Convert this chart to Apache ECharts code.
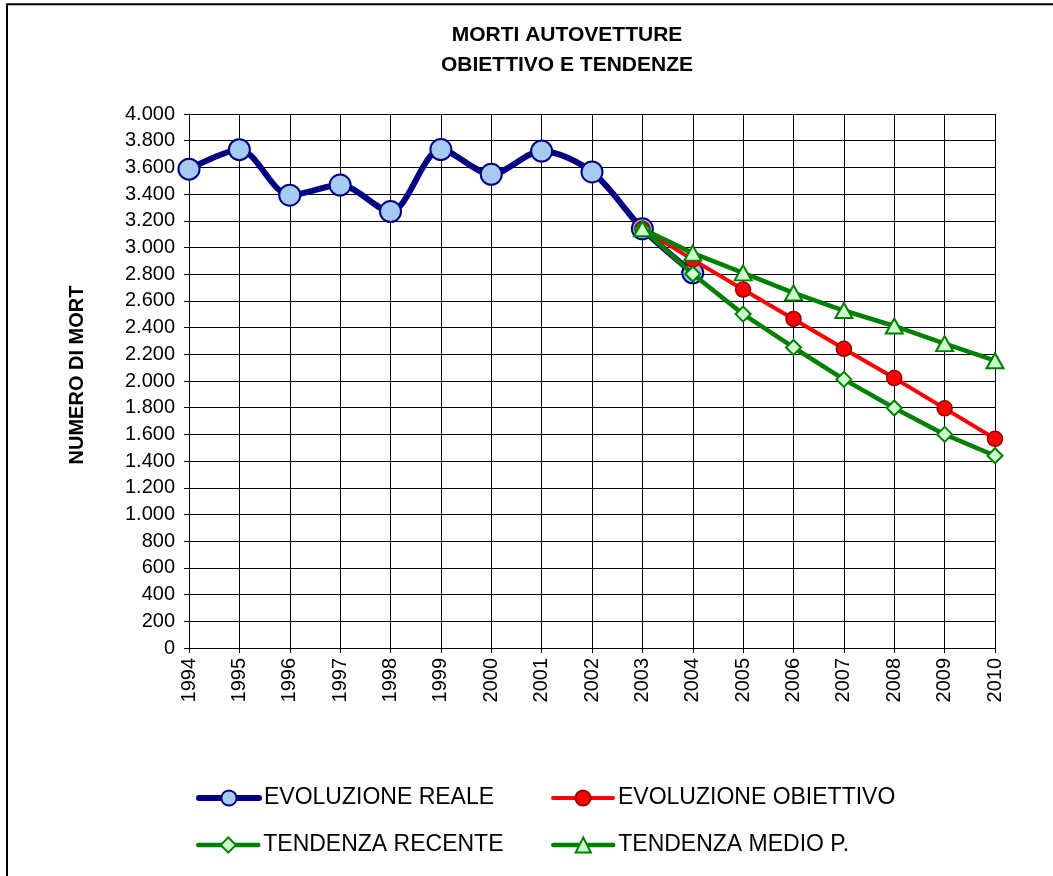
<!DOCTYPE html>
<html>
<head>
<meta charset="utf-8">
<script src="https://cdn.jsdelivr.net/npm/echarts@6/dist/echarts.min.js"></script>
<style>
html,body{margin:0;padding:0;background:#fff;}
#chart{width:1053px;height:876px;}
</style>
</head>
<body>
<div id="chart"></div>
<script>
const years = ['1994','1995','1996','1997','1998','1999','2000','2001','2002','2003','2004','2005','2006','2007','2008','2009','2010'];
const evoluzioneReale = [3587, 3733, 3392, 3468, 3269, 3734, 3548, 3722, 3566, 3140, 2810, null, null, null, null, null, null];
const evoluzioneObiettivo = [null, null, null, null, null, null, null, null, null, 3140, 2909, 2685, 2465, 2241, 2022, 1795, 1567];
const tendenzaRecente = [null, null, null, null, null, null, null, null, null, 3140, 2801, 2501, 2251, 2012, 1798, 1600, 1440];
const tendenzaMedio = [null, null, null, null, null, null, null, null, null, 3140, 2958, 2810, 2660, 2528, 2412, 2280, 2152];
const seriesNames = ['EVOLUZIONE REALE', 'EVOLUZIONE OBIETTIVO', 'TENDENZA RECENTE', 'TENDENZA MEDIO P.'];
const titleLines = ['MORTI AUTOVETTURE', 'OBIETTIVO E TENDENZE'];
const yAxisTitle = 'NUMERO DI MORT';

const FONT = 'Liberation Sans, Arial, Helvetica, sans-serif';
const chart = echarts.init(document.getElementById('chart'), null, {renderer: 'canvas'});

function fmt(v) {
  if (v >= 1000) {
    const t = Math.floor(v / 1000);
    const r = String(v % 1000).padStart(3, '0');
    return t + '.' + r;
  }
  return String(v);
}

function legendAt(name, left, top, lineWidth, color) {
  return {
    data: [name], left: left, top: top, padding: 0,
    itemWidth: 60, itemHeight: 19,
    lineStyle: {width: lineWidth, color: color, cap: 'round'},
    textStyle: {fontFamily: FONT, fontSize: 23, color: '#000', lineHeight: 24},
    selectedMode: false
  };
}

const option = {
  backgroundColor: '#fff',
  animation: false,
  title: {
    text: titleLines.join('\n'),
    left: 567, top: 20, padding: 0, textAlign: 'center',
    textStyle: {fontFamily: FONT, fontSize: 21, fontWeight: 'bold', color: '#000', lineHeight: 30}
  },
  legend: [
    legendAt(seriesNames[0], 196, 786, 6, '#000080'),
    legendAt(seriesNames[1], 551, 786, 4, '#ff0000'),
    legendAt(seriesNames[2], 196, 833, 4.5, '#008000'),
    legendAt(seriesNames[3], 551, 833, 4.5, '#008000')
  ],
  grid: {left: 189, right: 58, top: 114, bottom: 228, containLabel: false},
  xAxis: {
    type: 'category', data: years, boundaryGap: false,
    axisLine: {show: true, lineStyle: {color: '#000', width: 1}},
    axisTick: {show: true, length: 5, interval: 0, lineStyle: {color: '#000'}},
    axisLabel: {rotate: 90, interval: 0, margin: 10, fontFamily: FONT, fontSize: 20, color: '#000'},
    splitLine: {show: true, interval: 0, lineStyle: {color: '#000', width: 1}}
  },
  yAxis: {
    type: 'value', min: 0, max: 4000, interval: 200,
    axisLine: {show: true, lineStyle: {color: '#000', width: 1}},
    axisTick: {show: true, length: 5, lineStyle: {color: '#000'}},
    axisLabel: {formatter: fmt, margin: 14, fontFamily: FONT, fontSize: 20, color: '#000'},
    splitLine: {show: true, lineStyle: {color: '#000', width: 1}}
  },
  graphic: [
    {type: 'rect', shape: {x: 7, y: 4.3, width: 1200, height: 1000}, style: {fill: 'none', stroke: '#000', lineWidth: 2}, silent: true},
    {type: 'text', x: 77, y: 375, rotation: Math.PI / 2,
      style: {text: yAxisTitle, fontFamily: FONT, fontSize: 20, fontWeight: 'bold', fill: '#000', align: 'center', verticalAlign: 'middle'}}
  ],
  series: [
    {
      name: seriesNames[0], type: 'line', data: evoluzioneReale, smooth: 0.3,
      symbol: 'circle', symbolSize: 21, showAllSymbol: true,
      lineStyle: {color: '#000080', width: 6},
      itemStyle: {color: '#a6caf0', borderColor: '#000080', borderWidth: 2},
      z: 2
    },
    {
      name: seriesNames[1], type: 'line', data: evoluzioneObiettivo,
      symbol: 'circle', symbolSize: 15,
      lineStyle: {color: '#ff0000', width: 4},
      itemStyle: {color: '#ff0000', borderColor: '#990000', borderWidth: 1.5},
      z: 3
    },
    {
      name: seriesNames[2], type: 'line', data: tendenzaRecente,
      symbol: 'diamond', symbolSize: 15,
      lineStyle: {color: '#008000', width: 4.5},
      itemStyle: {color: '#ccffcc', borderColor: '#008000', borderWidth: 2},
      z: 4
    },
    {
      name: seriesNames[3], type: 'line', data: tendenzaMedio,
      symbol: 'triangle', symbolSize: [17, 15],
      lineStyle: {color: '#008000', width: 4.5},
      itemStyle: {color: '#ccffcc', borderColor: '#008000', borderWidth: 2},
      z: 5
    }
  ]
};
chart.setOption(option);
</script>
</body>
</html>
